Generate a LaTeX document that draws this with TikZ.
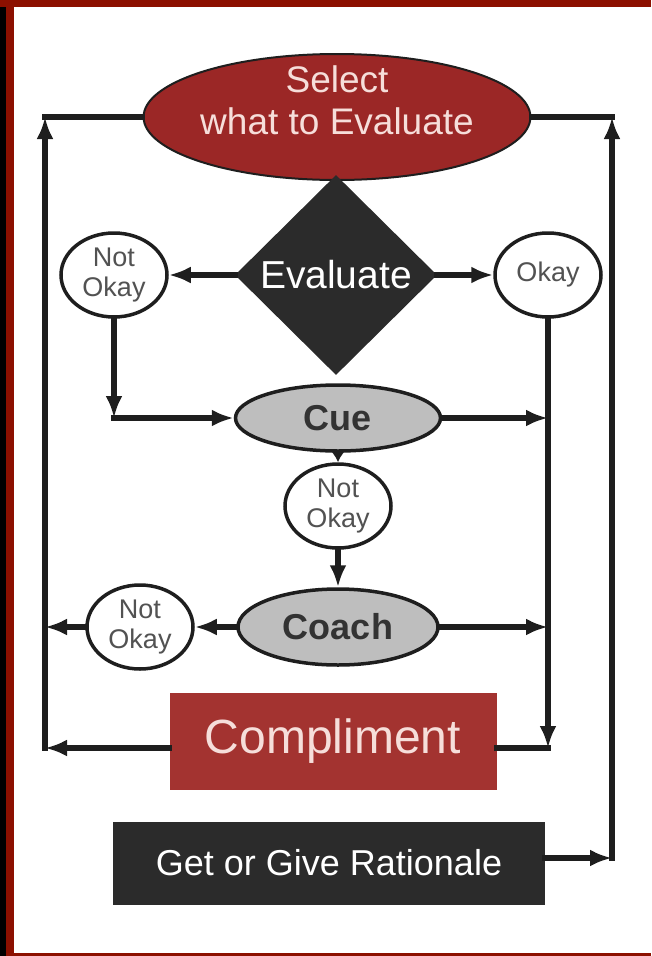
\documentclass[tikz,border=0pt]{standalone}
\usepackage{fontspec}
\setmainfont{Liberation Sans}
\usepackage{tikz}
\usetikzlibrary{shapes.geometric,arrows.meta,calc}
\definecolor{framered}{RGB}{140,16,0}
\definecolor{selred}{RGB}{155,39,38}
\definecolor{compred}{RGB}{163,51,48}
\definecolor{darkfill}{RGB}{43,43,43}
\definecolor{stepgray}{RGB}{190,190,190}
\definecolor{pinktext}{RGB}{246,222,218}
\definecolor{inkline}{RGB}{30,30,30}
\newcommand{\fsz}[2]{\fontsize{#1}{#2}\selectfont}

\begin{document}
\begin{tikzpicture}[x=1pt,y=1pt,
    link/.style={line width=5.5pt, draw=inkline, line cap=rect},
    tip/.style={link, -{Latex[length=22pt,width=17pt]}},
    shorttip/.style={line width=5.5pt, draw=inkline, -{Latex[length=11pt,width=14pt]}},
    outcome/.style={ellipse, draw=inkline, line width=3.5pt, fill=white, minimum width=106pt, minimum height=84pt, inner sep=0pt, align=center, text=black!68, font=\fsz{27}{30}},
    stepnode/.style={ellipse, draw=inkline, line width=3.5pt, fill=stepgray, inner sep=0pt, font=\bfseries\fsz{36}{36}, text=black!80}]
    \useasboundingbox (0,0) rectangle (651,-956);

    % Frame
    \fill[black] (0,0) rectangle (6,-956);
    \fill[framered] (6,0) rectangle (14,-956);
    \fill[framered] (0,0) rectangle (651,-7);
    \fill[framered] (14,-953) rectangle (651,-956);

    % Nodes
    \node[ellipse, fill=selred, draw=inkline, line width=2pt, minimum width=368pt, minimum height=126pt, inner sep=0pt, text=pinktext, font=\fsz{37}{42}] (select) at (337,-117)
        {\raisebox{12pt}[\height][\depth]{\begin{tabular}{@{}c@{}}Select\\what to Evaluate\end{tabular}}};
    \node[diamond, fill=darkfill, minimum width=202pt, minimum height=200pt, inner sep=0pt, text=white, font=\fsz{39}{39}] (eval) at (336,-275) {Evaluate};
    \node[outcome] (notok1) at (114,-275) {Not\\Okay};
    \node[outcome] (okay) at (548,-275) {Okay};
    \node[stepnode, minimum width=205pt, minimum height=66pt] (cue) at (338,-418) {Cue};
    \node[outcome] (notok2) at (338,-506) {Not\\Okay};
    \node[stepnode, minimum width=200pt, minimum height=76pt] (coach) at (338,-627) {Coach};
    \node[outcome] (notok3) at (140,-627) {Not\\Okay};
    \node[fill=compred, minimum width=327pt, minimum height=97pt, inner sep=0pt, text=pinktext, font=\fsz{48}{48}] (compl) at (333,-741) {Compliment};
    \node[fill=darkfill, minimum width=432pt, minimum height=83pt, inner sep=0pt, text=white, font=\fsz{36}{36}] (ratio) at (329,-863) {Get or Give Rationale};

    % Corners
    \coordinate (lt) at (45,-117);
    \coordinate (lb) at (45,-748);
    \coordinate (rt) at (612,-117);
    \coordinate (rb) at (612,-858);
    \coordinate (okb) at (548,-748);
    \coordinate (nob) at (114,-418);

    % Evaluate branches
    \draw[tip] (eval.west) -- (notok1.east);
    \draw[tip] (eval.east) -- (okay.west);
    \draw[tip] (notok1.south) -- (nob);
    \draw[tip] (nob) -- (cue.west);
    \draw[tip] (okay.south) -- (okb);
    \draw[link] (okb) -- (okb -| compl.east);

    % Cue and Coach
    \draw[tip] (cue.east) -- (okay.south |- cue.east);
    \draw[shorttip] (cue.south) -- (notok2.north);
    \draw[tip] (notok2.south) -- (coach.north);
    \draw[tip] (coach.west) -- (notok3.east);
    \draw[tip] (notok3.west) -- (lb |- notok3.west);
    \draw[tip] (coach.east) -- (okay.south |- coach.east);

    % Loops back to Select
    \draw[tip] (lb -| compl.west) -- (lb);
    \draw[tip] (lb) -- (lt);
    \draw[link] (lt) -- (select.west);
    \draw[tip] (rb -| ratio.east) -- (rb);
    \draw[tip] (rb) -- (rt);
    \draw[link] (select.east) -- (rt);
\end{tikzpicture}
\end{document}
